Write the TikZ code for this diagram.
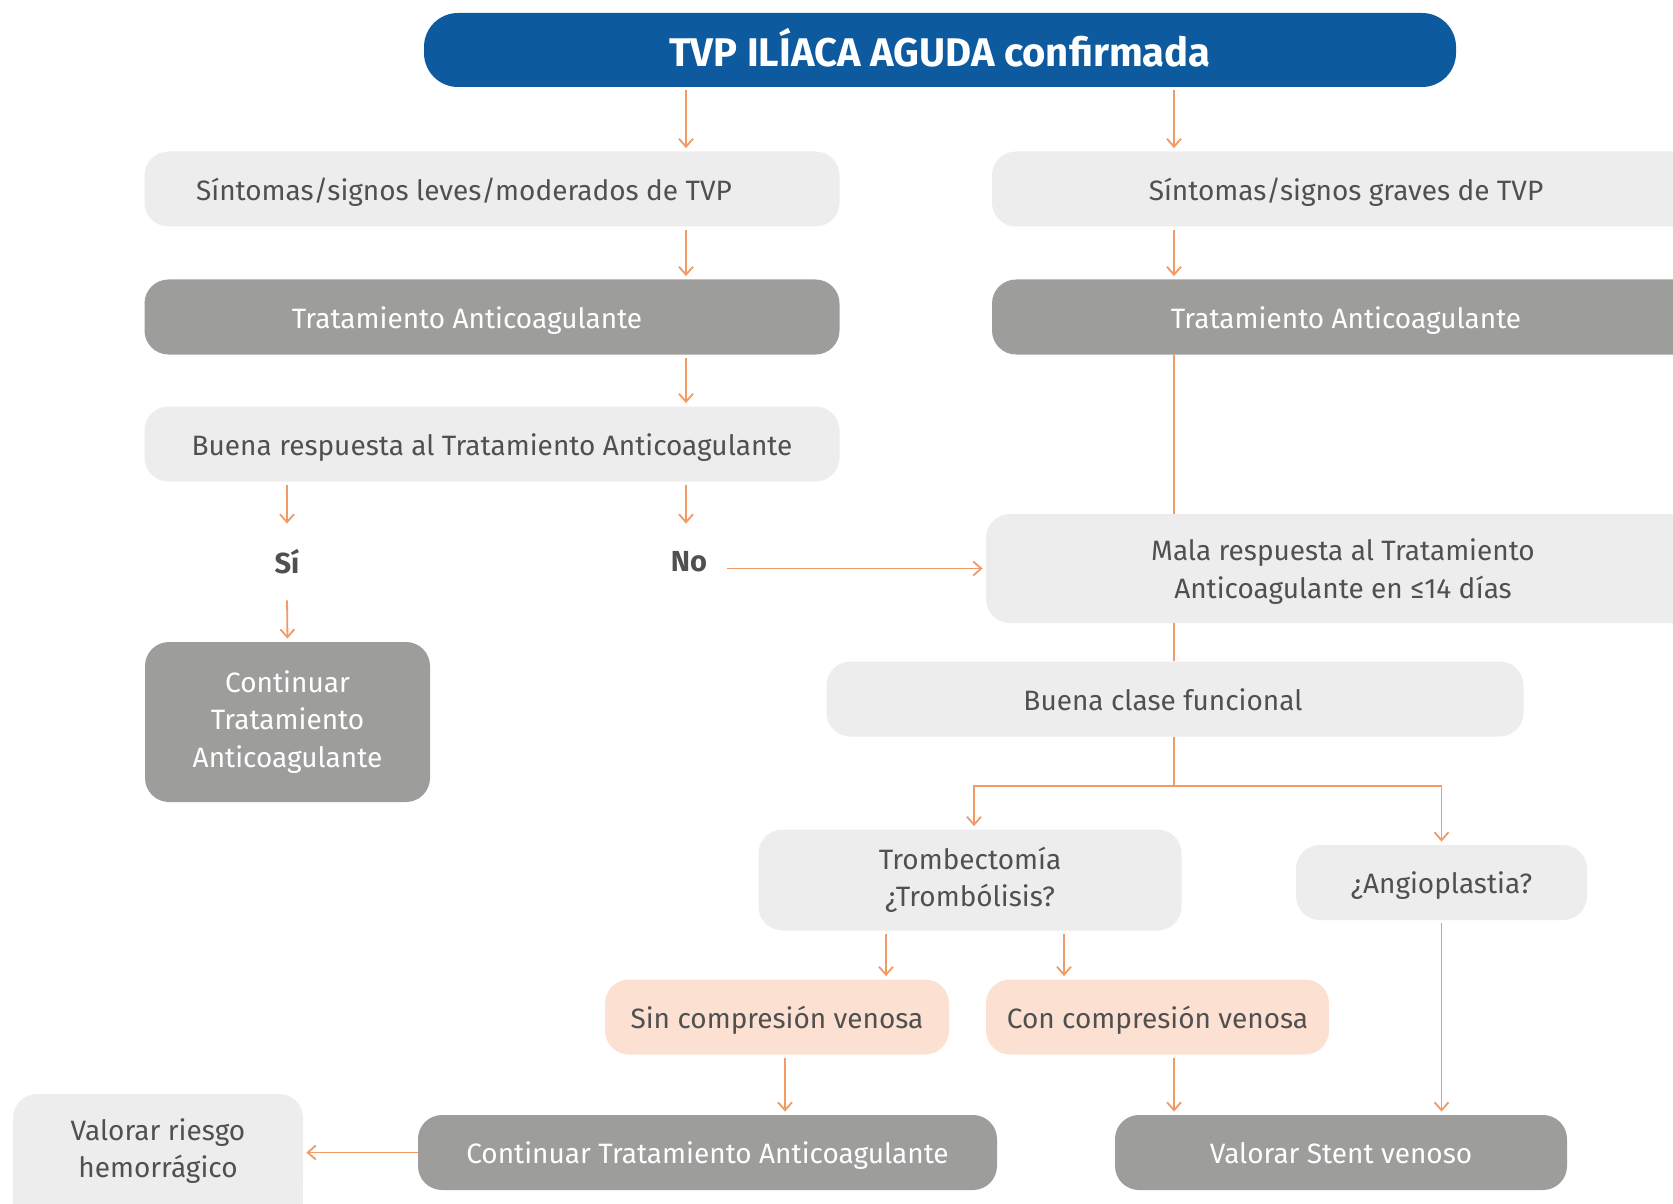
\documentclass[tikz,border=0pt]{standalone}
\usepackage{fontspec}
\setmainfont{Fira Sans}
\usetikzlibrary{arrows.meta}
\definecolor{titleblue}{HTML}{0D5A9E}
\definecolor{lightbox}{HTML}{EDEDED}
\definecolor{graybox}{HTML}{9D9D9C}
\definecolor{peachbox}{HTML}{FCE1D3}
\definecolor{arroworange}{HTML}{F29A63}
\definecolor{textgray}{HTML}{505050}
\begin{document}
\begin{tikzpicture}[x=0.5pt,y=-0.5pt,
  box/.style={rectangle, rounded corners=12pt, inner sep=0pt, font=\fontsize{14}{18.7}\selectfont, align=center},
  one/.style={text height=14.2pt, text depth=3pt},
  lbox/.style={box, fill=lightbox, text=textgray},
  gbox/.style={box, fill=graybox, text=white},
  pbox/.style={box, fill=peachbox, text=textgray},
  arr/.style={draw=arroworange, line width=0.9pt, -{Straight Barb[length=4pt,width=7pt]}, shorten >=1.5pt, shorten <=1.5pt},
  ln/.style={draw=arroworange, line width=0.9pt},
  lbl/.style={font=\bfseries\fontsize{14.5}{16}\selectfont, text=textgray, minimum height=35pt, inner xsep=10pt},
]
\useasboundingbox (0,0) rectangle (1673,1203);
\fill[white] (0,0) rectangle (1673,1203);

% title
\node[box, text height=19.2pt, text depth=3pt, rounded corners=17pt, fill=titleblue, text=white, minimum width=516pt, minimum height=37pt,
      font=\bfseries\fontsize{20}{22}\selectfont] (title) at (940,50) {TVP ILÍACA AGUDA confirmada};

% left column
\node[lbox, one, minimum width=347.5pt, minimum height=37.5pt] (L1) at (492,189) {\hspace*{-28pt}Síntomas/signos leves/moderados de TVP};
\node[gbox, one, minimum width=347.5pt, minimum height=37.5pt] (L2) at (492,317) {\hspace*{-25pt}Tratamiento Anticoagulante};
\node[lbox, one, minimum width=347.5pt, minimum height=37.5pt] (L3) at (492,444) {Buena respuesta al Tratamiento Anticoagulante};
\node[lbl] (si) at (287,562) {Sí};
\node[lbl] (no) at (689,562) {No};
\node[gbox, minimum width=142.5pt, minimum height=80pt] (L4) at (287.5,722) {Continuar\\Tratamiento\\Anticoagulante};

% right column
\node[lbox, one, minimum width=354pt, minimum height=37.5pt] (R1) at (1346,189) {Síntomas/signos graves de TVP};
\node[gbox, one, minimum width=354pt, minimum height=37.5pt] (R2) at (1346,317) {Tratamiento Anticoagulante};
\node[lbox, text depth=-0.5pt, minimum width=357pt, minimum height=54.5pt] (R3) at (1343,568.5) {Mala respuesta al Tratamiento\\Anticoagulante en ≤14 días};
\node[lbox, one, minimum width=348.5pt, minimum height=37.5pt] (R4) at (1175,699) {\hspace*{-12pt}Buena clase funcional};
\node[lbox, minimum width=211.5pt, minimum height=50.5pt] (R5) at (970,880) {Trombectomía\\¿Trombólisis?};
\node[lbox, one, minimum width=145.5pt, minimum height=37.5pt] (R6) at (1441.5,882.5) {¿Angioplastia?};
\node[pbox, one, minimum width=172pt, minimum height=37.5pt] (R7) at (777,1017) {Sin compresión venosa};
\node[pbox, one, minimum width=171.5pt, minimum height=37.5pt] (R8) at (1157.5,1017) {Con compresión venosa};
\node[gbox, one, minimum width=289.5pt, minimum height=37.5pt] (R9) at (707.5,1152.5) {Continuar Tratamiento Anticoagulante};
\node[gbox, one, minimum width=226pt, minimum height=37.5pt] (R10) at (1341,1152.5) {Valorar Stent venoso};
\fill[lightbox] (13,1148) rectangle (303,1240);
\node[lbox, text depth=0pt, minimum width=145pt, minimum height=54pt] (riesgo) at (158,1148) {Valorar riesgo\\hemorrágico};

% helper x positions
\coordinate (xl) at (686,0);
\coordinate (xr) at (1174,0);
\coordinate (xa) at (886,0);
\coordinate (xb) at (1064,0);
\coordinate (xc) at (785,0);
\coordinate (xt) at (974,0);
\coordinate (split) at (1174,786);

% connectors
\draw[arr] (title.south -| xl) -- (L1.north -| xl);
\draw[arr] (title.south -| xr) -- (R1.north -| xr);
\draw[arr] (L1.south -| xl) -- (L2.north -| xl);
\draw[arr] (L2.south -| xl) -- (L3.north -| xl);
\draw[arr] (L3.south -| si) -- (si.north);
\draw[arr] (L3.south -| xl) -- (no.north -| xl);
\draw[arr] (si.south) -- (L4.north);
\draw[arr, shorten <=0pt] (no.east |- R3.west) -- (R3.west);
\draw[arr] (R1.south -| xr) -- (R2.north -| xr);
\draw[ln] (R2.south -| xr) -- (R3.north -| xr);
\draw[ln] (R3.south -| xr) -- (R4.north -| xr);
\draw[ln] (R4.south -| xr) -- (split);
\draw[arr, shorten <=0pt] (split) -| (R5.north -| xt);
\draw[arr, shorten <=0pt] (split) -| (R6.north);
\draw[arr] (R5.south -| xa) -- (R7.north -| xa);
\draw[arr] (R5.south -| xb) -- (R8.north -| xb);
\draw[arr] (R7.south -| xc) -- (R9.north -| xc);
\draw[arr] (R8.south -| xr) -- (R10.north -| xr);
\draw[arr] (R6.south) -- (R6.south |- R10.north);
\draw[arr, shorten <=0pt] (R9.west) -- (R9.west -| riesgo.east);
\end{tikzpicture}
\end{document}
